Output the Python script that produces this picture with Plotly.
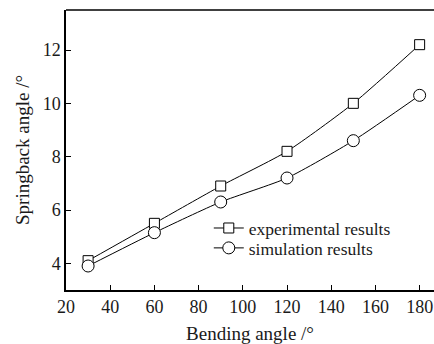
import plotly.graph_objects as go

bending = [30, 60, 90, 120, 150, 180]
experimental = [4.1, 5.5, 6.9, 8.2, 10.0, 12.2]
simulation = [3.9, 5.15, 6.3, 7.2, 8.6, 10.3]
x_ticks = [20, 40, 60, 80, 100, 120, 140, 160, 180]
y_ticks = [4, 6, 8, 10, 12]

FONT = "Liberation Serif"
INK = "#1a1a1a"

fig = go.Figure()
fig.add_trace(go.Scatter(
    x=bending, y=experimental, mode="lines+markers", name="experimental results",
    line=dict(color="black", width=1, shape="spline", smoothing=0.6),
    marker=dict(symbol="square", size=10, color="white", line=dict(color="black", width=1)),
    legend="legend",
))
fig.add_trace(go.Scatter(
    x=bending, y=simulation, mode="lines+markers", name="simulation results",
    line=dict(color="black", width=1, shape="spline", smoothing=0.6),
    marker=dict(symbol="circle", size=12, color="white", line=dict(color="black", width=1)),
    legend="legend2",
))

leg_common = dict(xanchor="left", yanchor="middle", bgcolor="rgba(0,0,0,0)",
                  font=dict(family=FONT, size=17.5, color=INK), itemwidth=30)

fig.update_layout(
    width=434, height=344,
    margin=dict(l=66, r=0, t=10, b=54),
    paper_bgcolor="white", plot_bgcolor="white",
    font=dict(family=FONT, size=18, color=INK),
    showlegend=True,
    legend=dict(x=0.388, y=0.221, **leg_common),
    legend2=dict(x=0.388, y=0.15, **leg_common),
    xaxis=dict(range=[20, 186.5], tickvals=x_ticks, ticks="inside", ticklen=5,
               tickcolor="black", showline=True, linecolor="black", linewidth=1.5,
               showgrid=False, zeroline=False, tickfont=dict(size=18),
               title=dict(text="Bending angle /°", font=dict(family=FONT, size=19), standoff=10)),
    yaxis=dict(range=[3, 13.5], tickvals=y_ticks, ticks="inside", ticklen=5,
               tickcolor="black", showline=True, linecolor="black", linewidth=1.5,
               showgrid=False, zeroline=False, tickfont=dict(size=18),
               title=dict(text="Springback angle /°", font=dict(family=FONT, size=19), standoff=8)),
)
fig.add_shape(type="line", xref="paper", yref="paper", x0=0, x1=1, y0=1, y1=1,
              line=dict(color="black", width=1.5))

fig.write_html("out.html", config={"displayModeBar": False},
               post_script="document.body.style.margin='0';document.body.style.overflow='hidden';")
